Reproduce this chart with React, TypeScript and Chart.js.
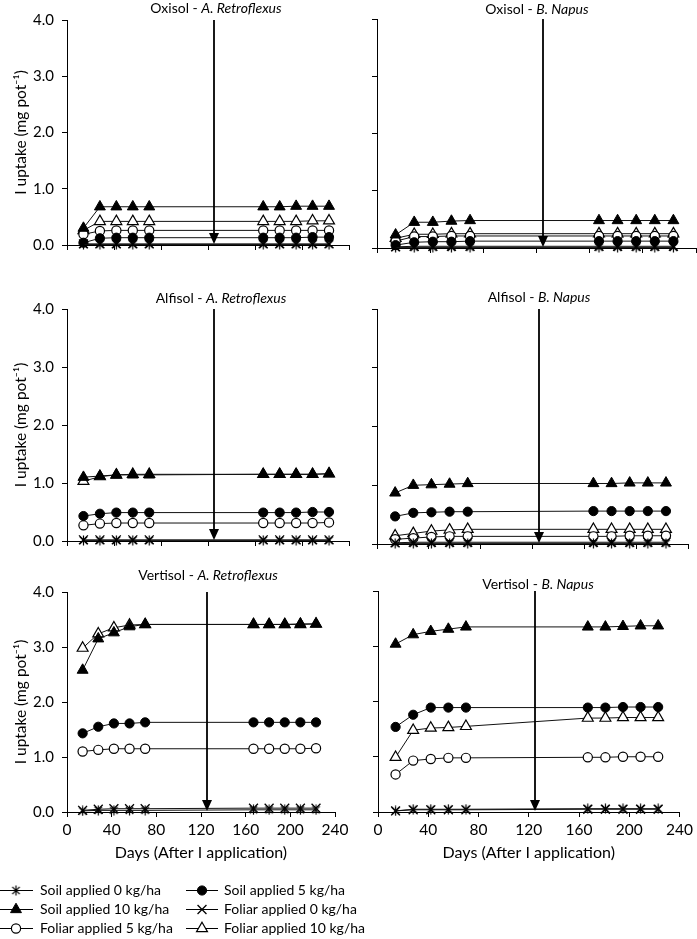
import React, { useEffect, useRef } from 'react';
import { Chart, registerables } from 'chart.js';
import { drawPoint } from 'chart.js/helpers';

Chart.register(...registerables);

// ---------- data ----------
const DAYS = [14, 28, 42, 56, 70, 167, 181, 195, 209, 223];
const X_TICKS = [0, 40, 80, 120, 160, 200, 240];
const Y_TICKS = [0, 1, 2, 3, 4];
const ARROW_DAY = 125;

const SERIES = [
  'Soil applied 0 kg/ha',
  'Soil applied 5 kg/ha',
  'Soil applied 10 kg/ha',
  'Foliar applied 0 kg/ha',
  'Foliar applied 5 kg/ha',
  'Foliar applied 10 kg/ha',
];

const SOILS = ['Oxisol', 'Oxisol', 'Alfisol', 'Alfisol', 'Vertisol', 'Vertisol'];
const PLANTS = ['A. Retroflexus', 'B. Napus', 'A. Retroflexus', 'B. Napus', 'A. Retroflexus', 'B. Napus'];

// order in every panel: soil 0, soil 5, soil 10, foliar 0, foliar 5, foliar 10
const oxisolRetroflexus = [
  [0.01, 0.01, 0.01, 0.01, 0.01, 0.01, 0.01, 0.01, 0.01, 0.01],
  [0.04, 0.12, 0.13, 0.13, 0.13, 0.13, 0.13, 0.13, 0.14, 0.14],
  [0.30, 0.68, 0.68, 0.68, 0.68, 0.68, 0.68, 0.69, 0.69, 0.69],
  [0.02, 0.02, 0.02, 0.02, 0.02, 0.02, 0.02, 0.02, 0.02, 0.02],
  [0.19, 0.25, 0.26, 0.26, 0.26, 0.26, 0.26, 0.26, 0.26, 0.26],
  [0.26, 0.42, 0.42, 0.42, 0.42, 0.42, 0.42, 0.42, 0.43, 0.43],
];
const oxisolNapus = [
  [0.01, 0.01, 0.01, 0.01, 0.01, 0.01, 0.01, 0.01, 0.01, 0.01],
  [0.05, 0.10, 0.11, 0.11, 0.12, 0.12, 0.12, 0.12, 0.12, 0.12],
  [0.23, 0.45, 0.45, 0.47, 0.48, 0.48, 0.48, 0.48, 0.48, 0.48],
  [0.02, 0.03, 0.03, 0.03, 0.03, 0.03, 0.03, 0.03, 0.03, 0.03],
  [0.12, 0.20, 0.20, 0.21, 0.21, 0.21, 0.21, 0.21, 0.21, 0.21],
  [0.17, 0.24, 0.24, 0.25, 0.25, 0.25, 0.25, 0.25, 0.25, 0.25],
];
const alfisolRetroflexus = [
  [0.01, 0.01, 0.01, 0.01, 0.01, 0.01, 0.01, 0.01, 0.01, 0.01],
  [0.43, 0.47, 0.49, 0.49, 0.49, 0.49, 0.49, 0.49, 0.50, 0.50],
  [1.10, 1.12, 1.14, 1.14, 1.14, 1.15, 1.15, 1.15, 1.15, 1.16],
  [0.02, 0.02, 0.02, 0.02, 0.02, 0.02, 0.02, 0.02, 0.02, 0.02],
  [0.27, 0.30, 0.31, 0.31, 0.31, 0.31, 0.31, 0.31, 0.31, 0.32],
  [1.03, 1.11, 1.14, 1.15, 1.15, 1.15, 1.15, 1.15, 1.15, 1.16],
];
const alfisolNapus = [
  [0.01, 0.01, 0.01, 0.01, 0.01, 0.01, 0.01, 0.01, 0.01, 0.01],
  [0.47, 0.53, 0.54, 0.55, 0.55, 0.56, 0.56, 0.56, 0.56, 0.56],
  [0.87, 1.00, 1.01, 1.02, 1.03, 1.03, 1.03, 1.04, 1.04, 1.04],
  [0.02, 0.03, 0.03, 0.03, 0.03, 0.03, 0.03, 0.03, 0.03, 0.03],
  [0.08, 0.10, 0.12, 0.13, 0.13, 0.13, 0.13, 0.14, 0.14, 0.14],
  [0.14, 0.18, 0.22, 0.24, 0.25, 0.25, 0.25, 0.25, 0.25, 0.25],
];
const vertisolRetroflexus = [
  [0.02, 0.03, 0.03, 0.03, 0.03, 0.04, 0.04, 0.04, 0.04, 0.04],
  [1.43, 1.55, 1.61, 1.61, 1.63, 1.63, 1.63, 1.63, 1.63, 1.63],
  [2.58, 3.15, 3.26, 3.37, 3.41, 3.41, 3.41, 3.41, 3.42, 3.42],
  [0.03, 0.05, 0.06, 0.06, 0.06, 0.07, 0.07, 0.07, 0.07, 0.07],
  [1.10, 1.13, 1.15, 1.15, 1.15, 1.15, 1.15, 1.15, 1.15, 1.16],
  [2.98, 3.24, 3.35, 3.40, 3.41, 3.41, 3.41, 3.41, 3.41, 3.42],
];
const vertisolNapus = [
  [0.02, 0.05, 0.05, 0.05, 0.05, 0.06, 0.06, 0.06, 0.06, 0.06],
  [1.54, 1.76, 1.89, 1.89, 1.89, 1.89, 1.89, 1.90, 1.90, 1.90],
  [3.04, 3.21, 3.27, 3.31, 3.35, 3.35, 3.35, 3.36, 3.37, 3.37],
  [0.02, 0.04, 0.04, 0.04, 0.04, 0.05, 0.05, 0.05, 0.05, 0.05],
  [0.68, 0.93, 0.96, 0.98, 0.98, 0.99, 0.99, 1.00, 1.00, 1.00],
  [0.99, 1.48, 1.52, 1.53, 1.55, 1.70, 1.70, 1.71, 1.71, 1.71],
];

const PANELS = [oxisolRetroflexus, oxisolNapus, alfisolRetroflexus, alfisolNapus, vertisolRetroflexus, vertisolNapus];

// ---------- layout (page pixels of each plot area) ----------
type Box = {
  left: number; right: number; top: number; bottom: number;
  yLabels: boolean; xLabels: boolean; legend: boolean;
  titleX: number; titleY: number;
};
const BOXES: Box[] = [
  { left: 67, right: 349, top: 20, bottom: 248, yLabels: true, xLabels: false, legend: false, titleX: 216, titleY: 8 },
  { left: 377, right: 696, top: 19, bottom: 248, yLabels: false, xLabels: false, legend: false, titleX: 537, titleY: 9 },
  { left: 67, right: 349, top: 309, bottom: 544, yLabels: true, xLabels: false, legend: false, titleX: 221, titleY: 298 },
  { left: 377, right: 688, top: 309, bottom: 544, yLabels: false, xLabels: false, legend: false, titleX: 539, titleY: 297 },
  { left: 67, right: 335, top: 592, bottom: 812, yLabels: true, xLabels: true, legend: true, titleX: 208, titleY: 575 },
  { left: 378, right: 685, top: 591, bottom: 812, yLabels: false, xLabels: true, legend: false, titleX: 538, titleY: 584 },
];

const LEGEND_COLS = [
  { x0: 0, x1: 33, m: 16, t: 40 },
  { x0: 186, x1: 218, m: 202, t: 224 },
];
const LEGEND_ROWS = [890, 909, 928];

const FONT = "Lato, 'Open Sans', 'DejaVu Sans', sans-serif";
const INK = '#000';

function geometry(b: Box) {
  const L = b.yLabels ? b.left : 10;
  const T = 30;
  const xH = b.xLabels ? 50 : 10;
  const padBottom = b.legend ? 939 - (b.bottom + xH) : 4;
  const R = b.legend ? 380 - b.right : 12;
  const x = b.left - L;
  const y = b.top - T;
  const w = L + (b.right - b.left) + R;
  const h = T + (b.bottom - b.top) + xH + padBottom;
  return { L, T, xH, padBottom, R, x, y, w, h };
}

function makeAsterisk() {
  const c = document.createElement('canvas');
  c.width = 11;
  c.height = 11;
  const g = c.getContext('2d')!;
  g.strokeStyle = INK;
  g.lineWidth = 1.2;
  g.beginPath();
  g.moveTo(5.5, 0.5); g.lineTo(5.5, 10.5);
  g.moveTo(1.8, 1.8); g.lineTo(9.2, 9.2);
  g.moveTo(9.2, 1.8); g.lineTo(1.8, 9.2);
  g.stroke();
  return c;
}

function seriesStyle(i: number, star: HTMLCanvasElement) {
  switch (i) {
    case 0: return { pointStyle: star, pointRadius: 5, pointBackgroundColor: INK, pointBorderColor: INK, pointBorderWidth: 1 };
    case 1: return { pointStyle: 'circle', pointRadius: 4.6, pointBackgroundColor: INK, pointBorderColor: INK, pointBorderWidth: 1 };
    case 2: return { pointStyle: 'triangle', pointRadius: 6.3, pointBackgroundColor: INK, pointBorderColor: INK, pointBorderWidth: 1 };
    case 3: return { pointStyle: 'crossRot', pointRadius: 6.3, pointBackgroundColor: INK, pointBorderColor: INK, pointBorderWidth: 1.3 };
    case 4: return { pointStyle: 'circle', pointRadius: 4.6, pointBackgroundColor: '#fff', pointBorderColor: INK, pointBorderWidth: 1.2 };
    default: return { pointStyle: 'triangle', pointRadius: 6.3, pointBackgroundColor: '#fff', pointBorderColor: INK, pointBorderWidth: 1.2 };
  }
}

function makeDecor(p: number, b: Box, g: ReturnType<typeof geometry>) {
  return {
    id: 'decor' + p,
    afterDatasetsDraw(chart: any) {
      const { ctx, scales } = chart;
      const xs = scales.x, ys = scales.y;
      const ax = Math.round(xs.getPixelForValue(ARROW_DAY));
      const top = ys.getPixelForValue(Y_TICKS[Y_TICKS.length - 1]);
      const tip = ys.getPixelForValue(0) - 1;
      ctx.save();
      ctx.strokeStyle = INK;
      ctx.lineWidth = 1.8;
      ctx.beginPath();
      ctx.moveTo(ax, top);
      ctx.lineTo(ax, tip - 8);
      ctx.stroke();
      ctx.fillStyle = INK;
      ctx.beginPath();
      ctx.moveTo(ax - 5, tip - 11);
      ctx.lineTo(ax + 5, tip - 11);
      ctx.lineTo(ax, tip);
      ctx.closePath();
      ctx.fill();
      ctx.restore();
    },
    afterDraw(chart: any) {
      const { ctx } = chart;
      ctx.save();
      // panel title
      const normal = SOILS[p] + ' - ';
      const italic = PLANTS[p];
      const fN = `14px ${FONT}`;
      const fI = `italic 14px ${FONT}`;
      ctx.font = fN;
      const w1 = ctx.measureText(normal).width;
      ctx.font = fI;
      const w2 = ctx.measureText(italic).width;
      const cx = b.titleX - g.x;
      const cy = b.titleY - g.y;
      const sx = cx - (w1 + w2) / 2;
      ctx.fillStyle = INK;
      ctx.textAlign = 'left';
      ctx.textBaseline = 'middle';
      ctx.font = fN;
      ctx.fillText(normal, sx, cy);
      ctx.font = fI;
      ctx.fillText(italic, sx + w1, cy);

      if (b.legend) {
        const ds = chart.data.datasets;
        ds.forEach((d: any, i: number) => {
          const col = LEGEND_COLS[i % 2];
          const ry = LEGEND_ROWS[Math.floor(i / 2)] - g.y;
          ctx.strokeStyle = INK;
          ctx.lineWidth = 1;
          ctx.beginPath();
          ctx.moveTo(col.x0 - g.x, ry + 0.5);
          ctx.lineTo(col.x1 - g.x, ry + 0.5);
          ctx.stroke();
          ctx.fillStyle = d.pointBackgroundColor;
          ctx.strokeStyle = d.pointBorderColor;
          ctx.lineWidth = d.pointBorderWidth;
          drawPoint(ctx, { pointStyle: d.pointStyle, radius: d.pointRadius, rotation: 0, borderWidth: d.pointBorderWidth }, col.m - g.x, ry + 0.5);
          ctx.fillStyle = INK;
          ctx.font = `14px ${FONT}`;
          ctx.textAlign = 'left';
          ctx.textBaseline = 'middle';
          ctx.fillText(d.label, col.t - g.x, ry);
        });
      }
      ctx.restore();
    },
  };
}

export default function App() {
  const refs = useRef<(HTMLCanvasElement | null)[]>([]);

  useEffect(() => {
    const star = makeAsterisk();
    const charts = PANELS.map((series, p) => {
      const b = BOXES[p];
      const g = geometry(b);
      const canvas = refs.current[p]!;
      return new Chart(canvas, {
        type: 'line',
        data: {
          datasets: series.map((vals, i) => ({
            label: SERIES[i],
            data: DAYS.map((d, k) => ({ x: d, y: vals[k] })),
            borderColor: '#111',
            borderWidth: 1,
            fill: false,
            tension: 0,
            clip: false,
            ...seriesStyle(i, star),
          })) as any,
        },
        options: {
          animation: false,
          responsive: false,
          maintainAspectRatio: false,
          events: [],
          layout: { padding: { left: 0, top: g.T, right: g.R, bottom: g.padBottom } },
          plugins: { legend: { display: false }, tooltip: { enabled: false }, title: { display: false } },
          scales: {
            x: {
              type: 'linear',
              min: X_TICKS[0],
              max: X_TICKS[X_TICKS.length - 1],
              afterBuildTicks: (s: any) => { s.ticks = X_TICKS.map((v) => ({ value: v })); },
              ticks: { display: b.xLabels, font: { family: FONT, size: 15.5 }, color: INK, padding: 4, maxRotation: 0, autoSkip: false },
              grid: { drawOnChartArea: false, drawTicks: true, tickLength: 5, color: INK, lineWidth: 1 },
              border: { display: true, color: INK, width: 1 },
              title: { display: b.xLabels, text: 'Days (After I application)', font: { family: FONT, size: 16 }, color: INK, padding: { top: 0, bottom: 0 } },
              afterFit: (s: any) => { s.height = g.xH; },
            },
            y: {
              type: 'linear',
              min: Y_TICKS[0],
              max: Y_TICKS[Y_TICKS.length - 1],
              afterBuildTicks: (s: any) => { s.ticks = Y_TICKS.map((v) => ({ value: v })); },
              ticks: { display: b.yLabels, font: { family: FONT, size: 15 }, color: INK, padding: 8, callback: (v: any) => Number(v).toFixed(1) },
              grid: { drawOnChartArea: false, drawTicks: true, tickLength: 5, color: INK, lineWidth: 1 },
              border: { display: true, color: INK, width: 1 },
              title: { display: b.yLabels, text: 'I uptake (mg pot\u207B\u00B9)', font: { family: FONT, size: 15.5 }, color: INK, padding: { top: 12, bottom: 0 } },
              afterFit: (s: any) => { s.width = g.L; },
            },
          },
        } as any,
        plugins: [makeDecor(p, b, g)],
      });
    });
    return () => charts.forEach((c) => c.destroy());
  }, []);

  return (
    <div style={{ position: 'fixed', left: 0, top: 0, width: 697, height: 939, overflow: 'hidden', background: '#fff' }}>
      {BOXES.map((b, p) => {
        const g = geometry(b);
        return (
          <canvas
            key={p}
            ref={(el) => { refs.current[p] = el; }}
            width={g.w}
            height={g.h}
            style={{ position: 'absolute', left: g.x, top: g.y, width: g.w, height: g.h }}
          />
        );
      })}
    </div>
  );
}
